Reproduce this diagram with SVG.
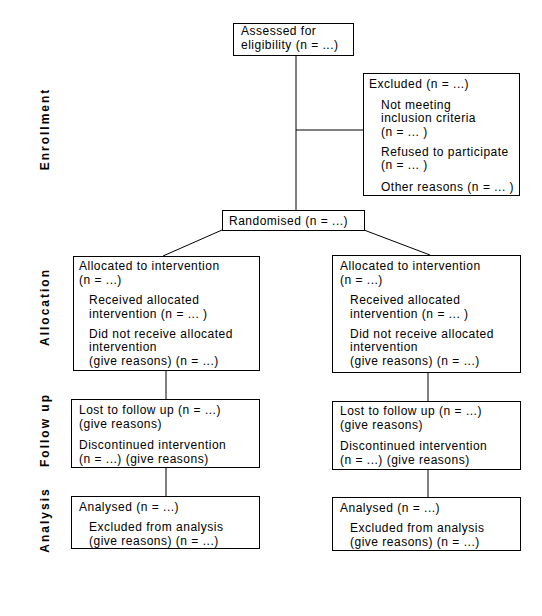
<svg xmlns="http://www.w3.org/2000/svg" width="542" height="616" viewBox="0 0 542 616">
<style>
.box{fill:#fff;stroke:#000;stroke-width:1}
.ln{stroke:#000;stroke-width:1;fill:none}
text{font-family:"Liberation Sans",Arial,sans-serif;font-size:12px;letter-spacing:0.5px;fill:#000}
.lab{font-size:12px;font-weight:bold;text-anchor:middle;letter-spacing:2px}
</style>
<rect width="542" height="616" fill="#fff"/>
<g id="connectors">
<line class="ln" x1="296" y1="55" x2="296" y2="210"/>
<line class="ln" x1="296" y1="130" x2="363" y2="130"/>
<line class="ln" x1="222" y1="230" x2="163" y2="256"/>
<line class="ln" x1="364" y1="230" x2="430" y2="255"/>
<line class="ln" x1="166" y1="370" x2="166" y2="400"/>
<line class="ln" x1="428" y1="372" x2="428" y2="401"/>
<line class="ln" x1="166" y1="467" x2="166" y2="497"/>
<line class="ln" x1="428" y1="469" x2="428" y2="498"/>
</g>
<g id="labels">
<text class="lab" transform="translate(49,129) rotate(-90)">Enrollment</text>
<text class="lab" transform="translate(49,307) rotate(-90)">Allocation</text>
<text class="lab" transform="translate(49,430) rotate(-90)">Follow up</text>
<text class="lab" transform="translate(49,520) rotate(-90)">Analysis</text>
</g>
<g id="assessed">
<rect class="box" x="233.5" y="23.5" width="120" height="32"/>
<text x="241" y="35">Assessed for</text>
<text x="241" y="49">eligibility (n = ...)</text>
</g>
<g id="excluded">
<rect class="box" x="363.5" y="73.5" width="156" height="122"/>
<text x="369" y="88">Excluded (n = ...)</text>
<text x="381" y="109">Not meeting</text>
<text x="381" y="122">inclusion criteria</text>
<text x="381" y="136">(n = ... )</text>
<text x="381" y="156">Refused to participate</text>
<text x="381" y="169">(n = ... )</text>
<text x="381" y="191">Other reasons (n = ... )</text>
</g>
<g id="randomised">
<rect class="box" x="222.5" y="210.5" width="142" height="20"/>
<text x="229" y="225">Randomised (n = ...)</text>
</g>
<g id="alloc-left">
<rect class="box" x="73.5" y="256.5" width="186" height="114"/>
<text x="79" y="270">Allocated to intervention</text>
<text x="79" y="284">(n = ...)</text>
<text x="89" y="304">Received allocated</text>
<text x="89" y="318">intervention  (n = ... )</text>
<text x="89" y="338">Did not receive allocated</text>
<text x="89" y="351">intervention</text>
<text x="89" y="365">(give  reasons) (n = ...)</text>
</g>
<g id="alloc-right">
<rect class="box" x="332.5" y="255.5" width="188" height="117"/>
<text x="340" y="270">Allocated to intervention</text>
<text x="340" y="284">(n = ...)</text>
<text x="350" y="304">Received allocated</text>
<text x="350" y="318">intervention  (n = ... )</text>
<text x="350" y="338">Did not receive allocated</text>
<text x="350" y="351">intervention</text>
<text x="350" y="365">(give  reasons) (n = ...)</text>
</g>
<g id="followup-left">
<rect class="box" x="71.5" y="399.5" width="188" height="68"/>
<text x="79" y="414">Lost to follow up (n = ...)</text>
<text x="79" y="428">(give reasons)</text>
<text x="79" y="449">Discontinued intervention</text>
<text x="79" y="463">(n = ...) (give reasons)</text>
</g>
<g id="followup-right">
<rect class="box" x="332.5" y="401.5" width="188" height="68"/>
<text x="340" y="415">Lost to follow up (n = ...)</text>
<text x="340" y="429">(give reasons)</text>
<text x="340" y="450">Discontinued intervention</text>
<text x="340" y="464">(n = ...) (give reasons)</text>
</g>
<g id="analysis-left">
<rect class="box" x="71.5" y="496.5" width="188" height="52"/>
<text x="79" y="511">Analysed (n = ...)</text>
<text x="89" y="531">Excluded from analysis</text>
<text x="89" y="545">(give reasons) (n = ...)</text>
</g>
<g id="analysis-right">
<rect class="box" x="332.5" y="497.5" width="188" height="53"/>
<text x="340" y="512">Analysed (n = ...)</text>
<text x="350" y="532">Excluded from analysis</text>
<text x="350" y="546">(give reasons) (n = ...)</text>
</g>
</svg>
